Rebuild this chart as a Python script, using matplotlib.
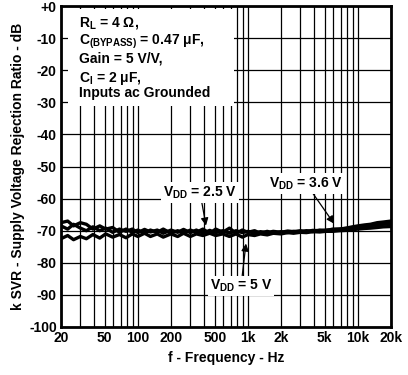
import numpy as np
import matplotlib
matplotlib.use("Agg")
import matplotlib.pyplot as plt
from matplotlib.patches import Rectangle
from matplotlib.ticker import FixedLocator, NullFormatter

plt.rcParams['font.family'] = ['Liberation Sans', 'DejaVu Sans']
plt.rcParams['mathtext.fontset'] = 'custom'
plt.rcParams['mathtext.rm'] = 'Liberation Sans:bold'
plt.rcParams['mathtext.bf'] = 'Liberation Sans:bold'
plt.rcParams['mathtext.it'] = 'Liberation Sans:bold'

freq = [20, 23, 26, 30, 34, 39, 45, 51, 59, 68,
        78, 89, 100, 115, 130, 150, 170, 200, 230, 260,
        300, 340, 390, 450, 510, 590, 680, 780, 890, 1000,
        1150, 1300, 1500, 1700, 2000, 2300, 2600, 3000, 3400, 3900,
        4500, 5100, 5900, 6800, 7800, 8900, 10000, 11500, 13000, 15000,
        17000, 20000]
ksvr_2v5 = [-67.5, -67, -68.5, -67.5, -68, -69.5, -68.5, -69.5, -69, -70.5,
            -69.5, -70.5, -69.8, -70.8, -69.8, -70.5, -69.5, -70.8, -70, -70.8,
            -69.8, -70.5, -69.5, -70.8, -69.5, -70.5, -69.2, -70.8, -69.8, -70.5,
            -70, -70.8, -70.2, -70.8, -70.3, -70.6, -70.2, -70.5, -70, -70.3,
            -69.8, -70, -69.5, -69.5, -69.2, -68.8, -68.5, -68.2, -68, -67.5,
            -67.3, -67]
ksvr_5v = [-72.5, -71.5, -72.8, -71.8, -72.5, -71.2, -72.3, -71, -72, -71.2,
           -72.2, -71, -71.8, -70.8, -71.8, -71, -72, -71, -71.8, -70.8,
           -71.8, -71, -71.5, -70.8, -71.5, -71, -71.8, -71, -72, -71.2,
           -71.5, -71, -71.3, -70.8, -71, -70.6, -70.8, -70.5, -70.6, -70.3,
           -70.4, -70.2, -70.2, -70, -69.9, -69.7, -69.5, -69.3, -69.2, -69,
           -68.8, -68.7]
ksvr_3v6 = [-68.5, -69.5, -68, -69.2, -70, -68.8, -70, -69.2, -70.5, -69.5,
            -70.2, -69.5, -70.6, -69.6, -70.4, -69.8, -70.8, -69.8, -70.5, -69.6,
            -70.6, -69.8, -70.8, -69.9, -70.6, -70, -70.8, -70, -70.6, -70.2,
            -70.8, -70.3, -70.6, -70.2, -70.5, -70.1, -70.3, -70, -70.2, -69.9,
            -70, -69.8, -69.7, -69.5, -69.3, -69.1, -68.9, -68.6, -68.4, -68.2,
            -68, -67.8]

xticks = [20, 50, 100, 200, 500, 1000, 2000, 5000, 10000, 20000]
xticklabels = ['20', '50', '100', '200', '500', '1k', '2k', '5k', '10k', '20k']
yticks = list(range(-100, 1, 10))
yticklabels = ['+0' if v == 0 else str(v) for v in yticks]

FS = 10

fig = plt.figure(figsize=(4.08, 3.75), dpi=100)
ax = fig.add_axes([61/408, 1 - 327/375, 330/408, 321/375])

for y in (ksvr_2v5, ksvr_5v, ksvr_3v6):
    ax.plot(freq, y, color='black', lw=2.4, zorder=3)

ax.set_xscale('log')
ax.set_xlim(20, 20000)
ax.set_ylim(-100, 0)

minor = []
for dec in (10, 100, 1000, 10000):
    for m in range(1, 10):
        v = m * dec
        if 20 <= v <= 20000:
            minor.append(v)
ax.xaxis.set_major_locator(FixedLocator(xticks))
ax.set_xticklabels(xticklabels)
ax.xaxis.set_minor_locator(FixedLocator(minor))
ax.xaxis.set_minor_formatter(NullFormatter())
ax.set_yticks(yticks)
ax.set_yticklabels(yticklabels)

for v in minor:
    ax.axvline(v, color='black', lw=0.9, zorder=1)
for v in yticks:
    ax.axhline(v, color='black', lw=0.9, zorder=1)

ax.tick_params(which='both', length=0, labelsize=FS, pad=3)
for lab in ax.get_xticklabels() + ax.get_yticklabels():
    lab.set_fontweight('bold')
for s in ax.spines.values():
    s.set_linewidth(2)
    s.set_zorder(5)

ax.set_xlabel('f - Frequency - Hz', fontsize=FS, fontweight='bold', labelpad=4)
ax.set_ylabel('k SVR - Supply Voltage Rejection Ratio - dB', fontsize=FS,
              fontweight='bold', labelpad=3)

# white box behind conditions text
ax.add_patch(Rectangle((0.02, 0.69), 0.505, 0.30, transform=ax.transAxes,
                       facecolor='white', edgecolor='none', zorder=2))
cond = ['R$_{\\mathrm{L}}$ = 4 Ω,',
        'C$_{\\mathrm{(BYPASS)}}$ = 0.47 μF,',
        'Gain = 5 V/V,',
        'C$_{\\mathrm{I}}$ = 2 μF,',
        'Inputs ac Grounded']
ypos = [0.947, 0.8875, 0.8375, 0.775, 0.728]
for t, yy in zip(cond, ypos):
    ax.text(0.055, yy, t, transform=ax.transAxes, fontsize=FS, fontweight='bold',
            va='center', ha='left', zorder=4)

bbox = dict(facecolor='white', edgecolor='none', pad=1.5)
arrow = dict(arrowstyle='-|>', color='black', lw=0.9, mutation_scale=11,
             shrinkA=0, shrinkB=0)
ax.annotate('V$_{\\mathrm{DD}}$ = 2.5 V', xy=(416, -68.4), xytext=(367, -58.1),
            fontsize=FS, fontweight='bold', ha='center', va='center', bbox=bbox,
            arrowprops=arrow, zorder=6)
ax.annotate('V$_{\\mathrm{DD}}$ = 3.6 V', xy=(6070, -67.8), xytext=(3375, -55.3),
            fontsize=FS, fontweight='bold', ha='center', va='center', bbox=bbox,
            arrowprops=arrow, zorder=6)
ax.annotate('V$_{\\mathrm{DD}}$ = 5 V', xy=(961, -74), xytext=(866, -87.2),
            fontsize=FS, fontweight='bold', ha='center', va='center', bbox=bbox,
            arrowprops=arrow, zorder=6)

fig.savefig('out.png', dpi=100)
